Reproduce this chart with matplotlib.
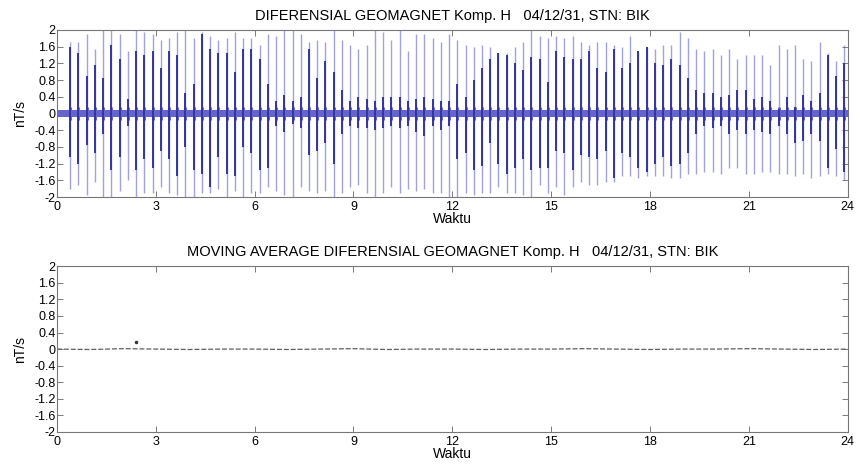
import matplotlib
matplotlib.use("Agg")
import matplotlib.pyplot as plt

plt.rcParams['font.family'] = ['Liberation Sans', 'DejaVu Sans']

# spike times (hours)
spike_t = [0.40, 0.65, 0.90, 1.15, 1.40, 1.65, 1.90, 2.15, 2.40, 2.65,
           2.90, 3.15, 3.40, 3.65, 3.90, 4.15, 4.40, 4.65, 4.90, 5.15,
           5.40, 5.65, 5.90, 6.15, 6.40, 6.65, 6.90, 7.15, 7.40, 7.65,
           7.90, 8.15, 8.40, 8.65, 8.90, 9.15, 9.40, 9.65, 9.90, 10.15,
           10.40, 10.65, 10.90, 11.15, 11.40, 11.65, 11.90, 12.15, 12.40, 12.65,
           12.90, 13.15, 13.40, 13.65, 13.90, 14.15, 14.40, 14.65, 14.90, 15.15,
           15.40, 15.65, 15.90, 16.15, 16.40, 16.65, 16.90, 17.15, 17.40, 17.65,
           17.90, 18.15, 18.40, 18.65, 18.90, 19.15, 19.40, 19.65, 19.90, 20.15,
           20.40, 20.65, 20.90, 21.15, 21.40, 21.65, 21.90, 22.15, 22.40, 22.65,
           22.90, 23.15, 23.40, 23.65, 23.90]

# outer (light) envelope of each spike, nT/s
light_top = [1.70, 1.70, 1.90, 1.55, 2.00, 2.00, 1.90, 1.50, 2.00, 1.95,
             1.90, 1.75, 1.80, 1.95, 2.00, 1.80, 1.95, 1.85, 1.75, 1.80,
             1.95, 1.80, 1.80, 1.65, 1.90, 1.85, 2.00, 2.00, 1.90, 1.70,
             1.75, 1.70, 2.00, 1.75, 1.65, 1.55, 1.65, 2.00, 1.95, 1.75,
             2.00, 1.50, 1.90, 1.90, 1.80, 1.70, 1.90, 1.75, 1.65, 1.60,
             1.65, 1.60, 1.45, 1.45, 1.60, 1.70, 2.00, 1.85, 1.80, 1.85,
             1.80, 1.85, 1.70, 1.65, 1.70, 1.70, 1.65, 1.60, 1.85, 1.50,
             1.60, 1.55, 1.65, 1.65, 1.95, 1.80, 1.55, 1.50, 1.55, 1.40,
             1.55, 1.30, 1.40, 1.40, 1.40, 1.15, 1.65, 1.55, 1.65, 1.30,
             1.25, 1.70, 1.45, 1.25, 1.65]
light_bot = [-1.80, -1.70, -1.95, -1.65, -2.00, -2.00, -1.85, -1.60, -2.00, -1.90,
             -1.90, -1.75, -1.90, -1.95, -2.00, -2.00, -1.90, -1.90, -1.80, -2.00,
             -1.85, -2.00, -1.90, -1.90, -1.75, -1.85, -1.95, -2.00, -1.75, -1.85,
             -1.90, -1.85, -2.00, -1.90, -1.75, -1.70, -1.90, -2.00, -1.90, -1.75,
             -1.90, -1.80, -1.85, -1.80, -1.90, -1.90, -2.00, -2.00, -1.90, -1.95,
             -1.90, -1.90, -1.75, -1.90, -1.90, -1.95, -2.00, -1.70, -1.90, -1.75,
             -1.95, -1.75, -1.65, -1.70, -1.70, -1.65, -1.65, -1.50, -1.50, -1.55,
             -1.50, -1.50, -1.50, -1.55, -1.55, -1.45, -1.45, -1.40, -1.40, -1.45,
             -1.30, -1.30, -1.45, -1.45, -1.40, -1.40, -1.45, -1.45, -1.50, -1.45,
             -1.55, -1.50, -1.45, -1.50, -1.60]

# inner (dark) core of each spike, nT/s
dark_top = [1.60, 1.45, 0.90, 1.15, 0.85, 1.65, 1.30, 0.35, 1.50, 1.40,
            1.50, 1.10, 1.50, 1.40, 0.50, 0.70, 1.90, 1.55, 1.45, 1.45,
            1.00, 1.55, 1.55, 1.30, 0.70, 0.30, 0.45, 0.30, 0.40, 1.55,
            0.85, 1.25, 1.00, 0.55, 0.30, 0.40, 0.35, 0.30, 0.40, 0.40,
            0.40, 0.30, 0.35, 0.40, 0.35, 0.30, 0.30, 0.70, 0.40, 0.80,
            1.10, 1.30, 1.45, 1.40, 1.20, 1.05, 1.35, 1.30, 0.75, 1.50,
            1.35, 1.30, 1.30, 1.50, 1.10, 1.00, 1.55, 1.10, 1.20, 1.50,
            1.60, 1.20, 1.15, 1.30, 1.15, 0.85, 0.55, 0.50, 0.50, 0.40,
            0.45, 0.55, 0.55, 0.35, 0.40, 0.30, 0.10, 0.40, 0.15, 0.45,
            0.30, 0.50, 1.40, 0.90, 1.20]
dark_bot = [-1.05, -1.20, -0.75, -0.95, -0.50, -1.35, -1.05, -0.30, -1.35, -1.10,
            -1.30, -0.90, -1.10, -1.50, -0.80, -1.35, -1.45, -1.75, -1.05, -1.45,
            -1.50, -0.80, -0.95, -1.35, -1.30, -0.30, -0.45, -0.25, -0.35, -1.00,
            -0.90, -0.70, -1.20, -0.50, -0.30, -0.35, -0.35, -0.40, -0.35, -0.30,
            -0.35, -0.30, -0.45, -0.55, -0.30, -0.40, -0.30, -1.10, -0.95, -1.35,
            -1.25, -0.70, -1.20, -1.45, -1.30, -1.10, -1.35, -1.30, -1.30, -0.90,
            -0.95, -1.35, -1.00, -1.05, -1.10, -0.90, -1.55, -0.95, -1.05, -1.30,
            -1.40, -1.20, -1.05, -1.25, -1.20, -0.95, -0.50, -0.30, -0.35, -0.30,
            -0.50, -0.40, -0.50, -0.40, -0.45, -0.50, -0.30, -0.50, -0.70, -0.65,
            -0.50, -0.65, -1.30, -0.85, -1.40]

# background noise band half-width (nT/s)
band_t = [0.0, 24.0]
band_hw = [0.08, 0.08]
# small bulge around each spike (nT/s)
bulge_hw = 0.15

# moving average series (hours, nT/s)
ma_t = [0, 1, 2, 3, 4, 5, 6, 7, 8, 9, 10, 11, 12, 13, 14, 15, 16, 17, 18, 19, 20, 21, 22, 23, 24]
ma_v = [0.0, -0.01, 0.01, 0.0, -0.01, 0.0, 0.0, -0.01, 0.0, 0.01, -0.01, 0.0,
        0.0, -0.01, 0.0, 0.0, 0.01, 0.0, -0.01, 0.0, 0.0, 0.01, 0.0, -0.01, 0.0]
stray_t = [2.4]
stray_v = [0.18]

xticks = [0, 3, 6, 9, 12, 15, 18, 21, 24]
yticks = [-2, -1.6, -1.2, -0.8, -0.4, 0, 0.4, 0.8, 1.2, 1.6, 2]
ytick_labels = ['-2', '-1.6', '-1.2', '-0.8', '-0.4', '0', '0.4', '0.8', '1.2', '1.6', '2']

title1 = 'DIFERENSIAL GEOMAGNET Komp. H   04/12/31, STN: BIK'
title2 = 'MOVING AVERAGE DIFERENSIAL GEOMAGNET Komp. H   04/12/31, STN: BIK'

fig = plt.figure(figsize=(8.58, 4.67), dpi=100)
ax1 = fig.add_axes([0.0664, 0.578, 0.9216, 0.358])
ax2 = fig.add_axes([0.0664, 0.075, 0.9216, 0.355])

LIGHT = '#a2a2e2'
DARK = '#34349e'
BAND = '#6464cc'

ax1.fill_between(band_t, [-h for h in band_hw], band_hw, color=BAND, lw=0, zorder=2)
ax1.vlines(spike_t, light_bot, light_top, colors=LIGHT, lw=1.0, zorder=1)
ax1.vlines(spike_t, dark_bot, dark_top, colors=DARK, lw=1.4, zorder=3)
ax1.vlines(spike_t, -bulge_hw, bulge_hw, colors=BAND, lw=2.2, zorder=2)

ax2.plot(ma_t, ma_v, color='#606060', lw=0.9, ls=(0, (4, 1.5)))
ax2.plot(stray_t, stray_v, 'o', color='#333333', ms=1.5)

for ax, title in ((ax1, title1), (ax2, title2)):
    ax.set_xlim(0, 24)
    ax.set_ylim(-2, 2)
    ax.set_xticks(xticks)
    ax.set_xticklabels([str(x) for x in xticks])
    ax.set_yticks(yticks)
    ax.set_yticklabels(ytick_labels)
    ax.tick_params(direction='in', top=True, right=True, length=4, width=0.6,
                   labelsize=9, color='#666666')
    ax.tick_params(axis='x', pad=3)
    ax.tick_params(axis='y', pad=1)
    for s in ax.spines.values():
        s.set_color('#777777')
        s.set_linewidth(0.8)
    ax.set_title(title, fontsize=10.5, pad=7)
    ax.set_xlabel('Waktu', fontsize=10, labelpad=-1)
    ax.set_ylabel('nT/s', fontsize=10, labelpad=5)

fig.savefig('out.png', dpi=100)
